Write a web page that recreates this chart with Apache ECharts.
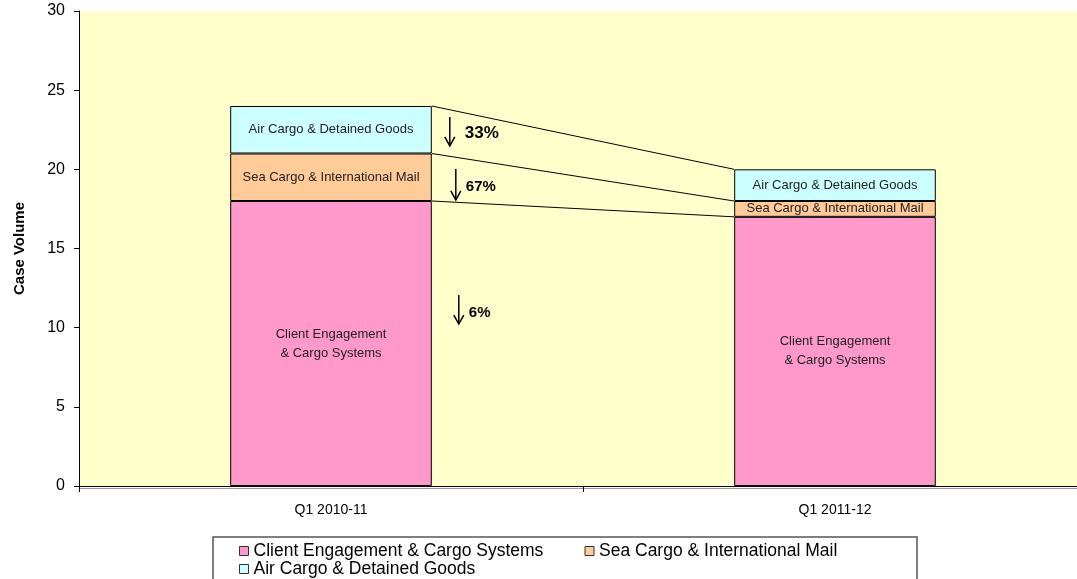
<!DOCTYPE html>
<html>
<head>
<meta charset="utf-8">
<title>Case Volume</title>
<script src="https://cdn.jsdelivr.net/npm/echarts@6/dist/echarts.min.js"></script>
<style>
html, body { margin: 0; padding: 0; background: #fff; }
#chart { width: 1077px; height: 579px; }
</style>
</head>
<body>
<div id="chart"></div>
<script>
// 分类与各业务的案件量
var quarters = ['Q1 2010-11', 'Q1 2011-12'];
var clientEngagement = [18, 17];
var seaCargo = [3, 1];
var airCargo = [3, 2];
var seriesNames = ['Client Engagement & Cargo Systems', 'Sea Cargo & International Mail', 'Air Cargo & Detained Goods'];

var FONT = '"Liberation Sans", Arial, sans-serif';
var stacks = [clientEngagement, seaCargo, airCargo];

// 每根柱子各段的累计顶部
function tops(i) {
  var sum = 0;
  return stacks.map(function (s) { sum += s[i]; return sum; });
}

// 连接线 + 下降箭头与百分比
function renderLinks(params, api) {
  if (params.dataIndex !== 0) return null;
  var half = api.size([1, 0])[0] * 0.2;
  var t0 = tops(0), t1 = tops(1);
  var children = [];
  for (var k = 0; k < stacks.length; k++) {
    var p0 = api.coord([0, t0[k]]);
    var p1 = api.coord([1, t1[k]]);
    children.push({
      type: 'line',
      shape: { x1: p0[0] + half, y1: p0[1], x2: p1[0] - half, y2: p1[1] },
      style: { stroke: '#000', lineWidth: 1 }
    });
  }
  var edge = api.coord([0, 0])[0] + half;
  // 箭头位置（样式）
  var notes = [
    { seg: 2, top: 23.31, bot: 21.48, mid: 22.3, dx: 18, tx: 33, size: 17 },
    { seg: 1, top: 20.02, bot: 18.07, mid: 18.9, dx: 24, tx: 34, size: 15 },
    { seg: 0, top: 12.07, bot: 10.23, mid: 10.95, dx: 27, tx: 37, size: 15 }
  ];
  notes.forEach(function (n) {
    var s = stacks[n.seg];
    var pct = Math.round((s[0] - s[1]) / s[0] * 100) + '%';
    var x = edge + n.dx;
    var yt = api.coord([0, n.top])[1];
    var yb = api.coord([0, n.bot])[1];
    var ym = api.coord([0, n.mid])[1];
    children.push({
      type: 'line',
      shape: { x1: x, y1: yt, x2: x, y2: yb },
      style: { stroke: '#000', lineWidth: 1.5 }
    });
    children.push({
      type: 'polyline',
      shape: { points: [[x - 5, yb - 9], [x, yb], [x + 5, yb - 9]] },
      style: { stroke: '#000', lineWidth: 1.5, fill: null }
    });
    children.push({
      type: 'text',
      style: {
        x: edge + n.tx, y: ym, text: pct, fill: '#000',
        fontSize: n.size, fontWeight: 'bold', fontFamily: FONT,
        align: 'left', verticalAlign: 'middle'
      }
    });
  });
  return { type: 'group', children: children };
}

function barSeries(name, data, color, labelText) {
  return {
    name: name,
    type: 'bar',
    stack: 'total',
    barWidth: '40%',
    data: data,
    itemStyle: { color: color, borderColor: '#000', borderWidth: 1 },
    label: {
      show: true,
      position: 'inside',
      formatter: labelText,
      color: '#222',
      fontSize: 13,
      lineHeight: 19,
      fontFamily: FONT
    }
  };
}

var myChart = echarts.init(document.getElementById('chart'));
myChart.setOption({
  animation: false,
  textStyle: { fontFamily: FONT },
  grid: {
    left: 79, right: -10, top: 11, bottom: 93,
    show: true, backgroundColor: '#FFFFCC', borderWidth: 0,
    containLabel: false, outerBoundsMode: 'none'
  },
  legend: {
    data: seriesNames,
    left: 239, top: 542,
    width: 700,
    padding: 0,
    itemGap: 0,
    itemWidth: 9, itemHeight: 9,
    icon: 'rect',
    itemStyle: { borderColor: '#333', borderWidth: 1 },
    textStyle: { fontSize: 17.5, color: '#000', width: 331, lineHeight: 17, fontFamily: FONT }
  },
  graphic: [{
    type: 'rect',
    shape: { x: 213, y: 537, width: 704, height: 60 },
    style: { fill: null, stroke: '#555', lineWidth: 1.5 },
    silent: true
  }],
  xAxis: {
    type: 'category',
    data: quarters,
    axisLine: { lineStyle: { color: '#000', width: 1, shadowColor: '#999', shadowOffsetY: 2 } },
    axisTick: { show: true, length: 6, lineStyle: { color: '#000' } },
    axisLabel: { color: '#000', fontSize: 14, margin: 17, fontFamily: FONT },
    splitLine: { show: false }
  },
  yAxis: {
    type: 'value',
    min: 0, max: 30, interval: 5,
    name: 'Case Volume',
    nameLocation: 'middle',
    nameGap: 52,
    nameTextStyle: { color: '#000', fontSize: 15, fontWeight: 'bold', fontFamily: FONT },
    axisLine: { show: true, lineStyle: { color: '#000', width: 1 } },
    axisTick: { show: true, length: 5, lineStyle: { color: '#000' } },
    axisLabel: { color: '#000', fontSize: 16, margin: 14, fontFamily: FONT },
    splitLine: { show: false }
  },
  series: [
    barSeries(seriesNames[0], clientEngagement, '#FF99CC', 'Client Engagement\n& Cargo Systems'),
    barSeries(seriesNames[1], seaCargo, '#FFCC99', seriesNames[1]),
    barSeries(seriesNames[2], airCargo, '#CCFFFF', seriesNames[2]),
    {
      type: 'custom',
      renderItem: renderLinks,
      data: [0],
      silent: true,
      z: 5
    }
  ]
});
</script>
</body>
</html>
